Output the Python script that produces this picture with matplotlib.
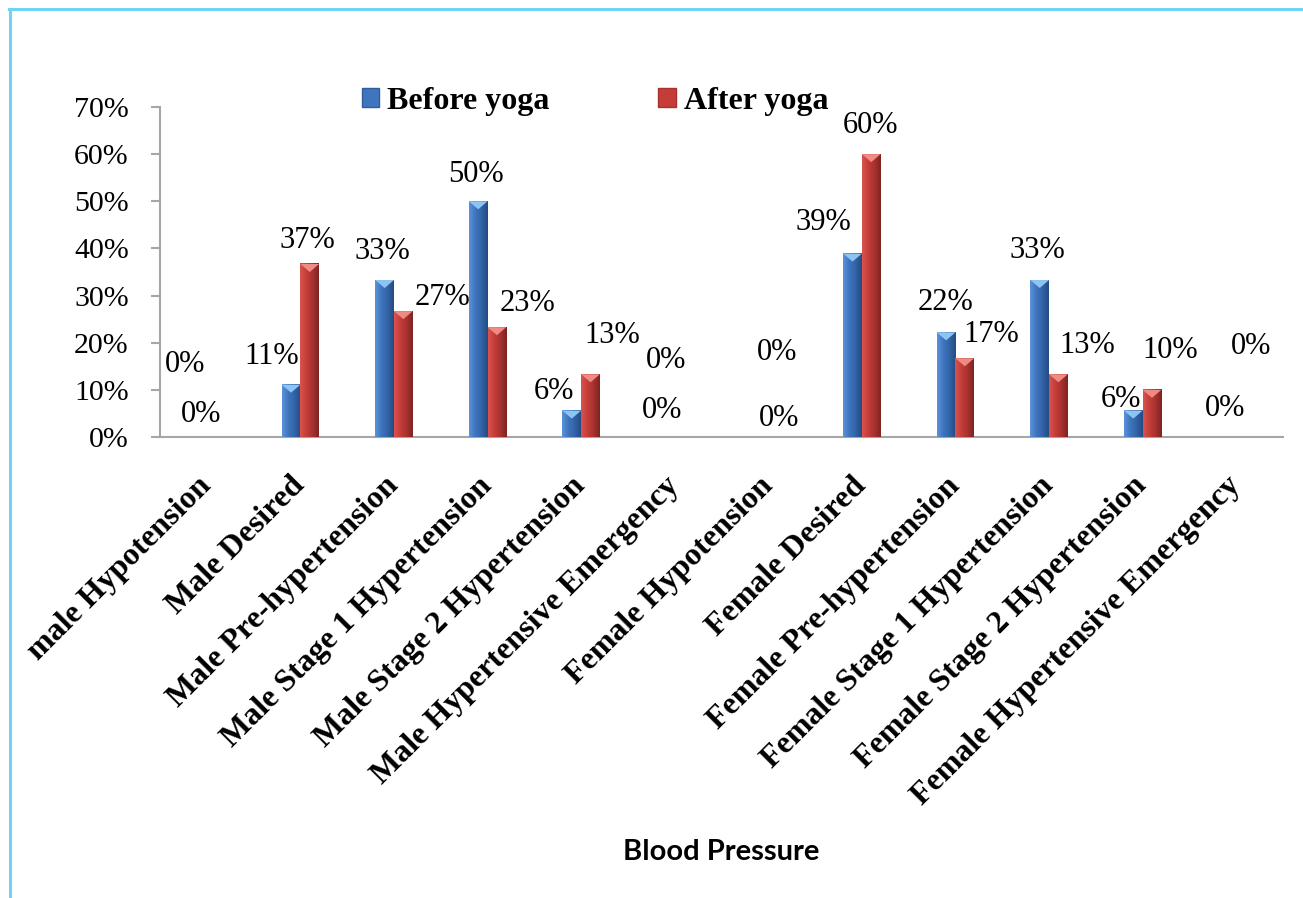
import numpy as np
import matplotlib.pyplot as plt
from matplotlib.colors import LinearSegmentedColormap
from matplotlib.patches import Patch, Polygon
from matplotlib.lines import Line2D
from matplotlib.ticker import FuncFormatter

# data (percent of participants)
categories = ['male Hypotension', 'Male Desired', 'Male Pre-hypertension',
              'Male Stage 1 Hypertension', 'Male Stage 2 Hypertension',
              'Male Hypertensive Emergency', 'Female Hypotension', 'Female Desired',
              'Female Pre-hypertension', 'Female Stage 1 Hypertension',
              'Female Stage 2 Hypertension', 'Female Hypertensive Emergency']
before_yoga = [0, 11.1, 33.3, 50.0, 5.6, 0, 0, 38.9, 22.2, 33.3, 5.6, 0]
after_yoga = [0, 36.7, 26.7, 23.3, 13.3, 0, 0, 60.0, 16.7, 13.3, 10.0, 0]

# data labels were moved by hand in the original, offsets in pixels from bar top
before_offsets = [(-12, 72), (-19, 28), (-2, 29), (-2, 27), (-18, 19), (1, 77),
                  (18, 85), (-29, 31), (-1, 30), (-2, 30), (-12, 11), (24, 90)]
after_offsets = [(-15, 23), (-2, 23), (39, 14), (31, 24), (22, 39), (-22, 27),
                 (1, 19), (-1, 29), (26, 24), (29, 29), (18, 39), (-21, 28)]

serif = 'Liberation Serif'

fig = plt.figure(figsize=(13.03, 8.98), dpi=100)
ax = fig.add_axes([160 / 1303, 1 - 437 / 898, 1123 / 1303, 330 / 898])

x = np.arange(len(categories))
w = 0.2

blue_cmap = LinearSegmentedColormap.from_list('b', ['#5a92da', '#3f75be', '#3263a6', '#254c84'])
red_cmap = LinearSegmentedColormap.from_list('r', ['#d9534f', '#c43d39', '#a83230', '#7e2422'])

bars_b = ax.bar(x - w / 2, before_yoga, w, color='#3f75be', zorder=2)
bars_a = ax.bar(x + w / 2, after_yoga, w, color='#c43d39', zorder=2)

ax.set_xlim(-0.5, len(categories) - 0.5)
ax.set_ylim(0, 70)

# bevel look: horizontal gradient + light triangle at the top of each bar
grad = np.linspace(0, 1, 50).reshape(1, -1)
tri_h = 1.7
for bars, cmap, top in [(bars_b, blue_cmap, '#8cc4f2'), (bars_a, red_cmap, '#f08a84')]:
    for r in bars:
        h = r.get_height()
        if h <= 0:
            continue
        x0, bw = r.get_x(), r.get_width()
        ax.imshow(grad, cmap=cmap, extent=(x0, x0 + bw, 0, h), aspect='auto', zorder=3)
        ax.add_patch(Polygon([(x0, h), (x0 + bw, h), (x0 + bw / 2, h - tri_h)],
                             closed=True, color=top, lw=0, zorder=4))
ax.set_xlim(-0.5, len(categories) - 0.5)
ax.set_ylim(0, 70)

# data labels
for bars, vals, offs in [(bars_b, before_yoga, before_offsets), (bars_a, after_yoga, after_offsets)]:
    for r, v, (dx, dy) in zip(bars, vals, offs):
        ax.annotate('%d%%' % round(v), (r.get_x() + r.get_width() / 2, r.get_height()),
                    xytext=(dx, dy), textcoords='offset pixels', ha='center', va='center',
                    fontsize=22, family=serif, zorder=5)

ax.set_yticks(np.arange(0, 71, 10))
ax.yaxis.set_major_formatter(FuncFormatter(lambda v, p: '%d%%' % v))
for lab in ax.get_yticklabels():
    lab.set_family(serif)
    lab.set_fontsize(21.5)
ax.tick_params(axis='y', length=6.5, width=1.5, color='#a6a6a6', pad=16)

ax.set_xticks(x)
ax.set_xticklabels(categories, rotation=45, ha='right', va='center',
                   rotation_mode='anchor', family=serif, fontweight='bold', fontsize=23)
ax.tick_params(axis='x', length=0, pad=32)

for s in ['top', 'right']:
    ax.spines[s].set_visible(False)
for s in ['left', 'bottom']:
    ax.spines[s].set_color('#a6a6a6')
    ax.spines[s].set_linewidth(1.5)

fig.text(721.5 / 1303, 1 - 852 / 898, 'Blood Pressure', ha='center', va='center',
         family='Lato', fontweight='bold', fontsize=21)

handles = [Patch(facecolor='#3f75be', edgecolor='#2f5e9f'),
           Patch(facecolor='#c43d39', edgecolor='#a83230')]
fig.legend(handles, ['Before yoga', 'After yoga'], loc='center',
           bbox_to_anchor=(595 / 1303, 1 - 101 / 898), ncol=2, frameon=False,
           prop={'family': serif, 'weight': 'bold', 'size': 23},
           handlelength=0.55, handleheight=0.55, handletextpad=0.25, columnspacing=3.4)

# light blue frame around the chart
fig.add_artist(Line2D([9 / 1303, 1], [1 - 9 / 898, 1 - 9 / 898], color='#6fd3f7', lw=2.2))
fig.add_artist(Line2D([10 / 1303, 10 / 1303], [0, 1 - 9 / 898], color='#6fd3f7', lw=2.2))

fig.savefig('out.png', dpi=100)
